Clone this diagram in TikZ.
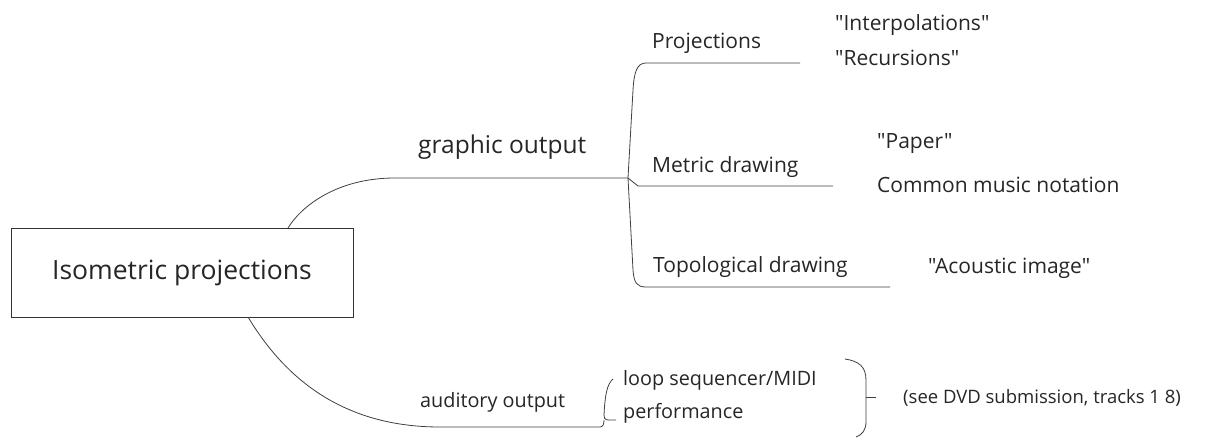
\documentclass[tikz,border=0pt]{standalone}
\usepackage{fontspec}
\setmainfont{Open Sans}[Ligatures=TeXOff]
\newcommand{\sq}{\char34\relax}
\begin{document}
\begin{tikzpicture}[x=1pt,y=-1pt,
  conn/.style={draw=black!75, line width=0.8pt},
  lbl/.style={anchor=base west, inner sep=0pt, text=black!85},
  lvtwo/.style={lbl, font=\fontsize{21}{25}\selectfont},
  lvbot/.style={lbl, font=\fontsize{19.8}{23}\selectfont}]
\useasboundingbox (0,0) rectangle (1213,439);
\fill[white] (0,0) rectangle (1213,439);
% root
\node[draw=black!80, line width=0.9pt, minimum width=342pt, minimum height=89pt, inner sep=0pt,
      text=black!85, font=\fontsize{26.5}{30}\selectfont] (root) at (182,272.5) {Isometric projections};
\coordinate (rt) at (288,228);
\coordinate (rb) at (248,317);
% level 1
\node[lbl, font=\fontsize{24.5}{28}\selectfont] (go) at (418,153) {graphic output};
\node[lvbot] (ao) at (420,407) {auditory output};
% level 2
\node[lvtwo] (proj) at (652,48) {Projections};
\node[lvtwo] (metr) at (652,172) {Metric drawing};
\node[lvtwo] (topo) at (653,272) {Topological drawing};
% level 3
\node[lvtwo] (interp) at (835,30) {\sq Interpolations\sq};
\node[lvtwo] (recur) at (835,65) {\sq Recursions\sq};
\node[lvtwo] (paper) at (877,148) {\sq Paper\sq};
\node[lvtwo] (cmn) at (877,192) {Common music notation};
\node[lvtwo] (acou) at (928,273) {\sq Acoustic image\sq};
% bottom
\node[lvbot] (loop) at (623,385) {loop sequencer/MIDI};
\node[lvbot] (perf) at (623,418) {performance};
\node[lbl, font=\fontsize{18.5}{22}\selectfont] (dvd) at (903,403) {(see DVD submission, tracks 1 8)};
% connectors
\coordinate (j) at (628,178);
\coordinate (pe) at (800,63);
\coordinate (me) at (833,186);
\coordinate (te) at (890,287);
\draw[conn] (rt) .. controls (300,208) and (335,178) .. (395,178) -- (j);
\draw[conn] (pe) -- (646,63) .. controls (637,63) and (634,72) .. (633,90) -- (j) -- (633,270) .. controls (634,283) and (637,287) .. (646,287) -- (te);
\draw[conn] (j) -- (638,186) -- (me);
% bottom branch
\coordinate (be) at (600,427);
\draw[conn] (rb) .. controls (280,370) and (335,427) .. (440,427) -- (be) .. controls (603,427) and (604,424) .. (604,420);
\draw[conn] (613,379) .. controls (607,384) and (605,395) .. (604,415) .. controls (604,421) and (607,420) .. (616,420);
\draw[conn] (845,359) .. controls (858,361) and (866,366) .. (866,380) -- (866,422) .. controls (866,430) and (862,435) .. (856,437);
\draw[conn] (866,397) -- (876,397);
\end{tikzpicture}
\end{document}
